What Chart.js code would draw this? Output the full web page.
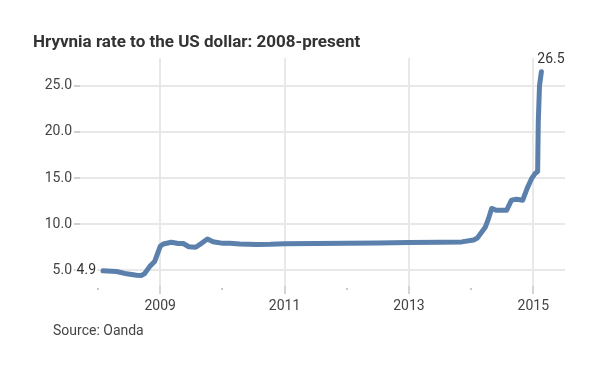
<!DOCTYPE html>
<html lang="en">
<head>
    <meta charset="UTF-8">
    <title>Hryvnia rate to the US dollar</title>
    <script src="https://cdn.jsdelivr.net/npm/chart.js"></script>
    <style>
        body { margin: 0; background: #fff; }
        .chart { width: 591px; height: 371px; }
    </style>
</head>
<body>
    <div class="chart">
        <canvas id="myChart" width="591" height="371"></canvas>
    </div>

    <script>
        // decimal years and UAH per USD
        var years = [2008.08, 2008.30, 2008.46, 2008.62, 2008.70, 2008.75, 2008.83, 2008.91, 2009.00, 2009.05,
            2009.18, 2009.29, 2009.37, 2009.46, 2009.57, 2009.67, 2009.76, 2009.85, 2010.01, 2010.12,
            2010.28, 2010.55, 2010.77, 2011.00, 2011.50, 2012.00, 2012.50, 2013.00, 2013.50, 2013.85,
            2014.04, 2014.10, 2014.23, 2014.28, 2014.33, 2014.41, 2014.57, 2014.65, 2014.73, 2014.83,
            2014.90, 2014.97, 2015.03, 2015.07, 2015.08, 2015.10, 2015.13];
        var rates = [4.95, 4.87, 4.62, 4.47, 4.45, 4.65, 5.40, 5.95, 7.60, 7.85,
            8.04, 7.90, 7.90, 7.55, 7.50, 7.95, 8.40, 8.10, 7.92, 7.94,
            7.86, 7.80, 7.82, 7.88, 7.90, 7.93, 7.95, 8.00, 8.03, 8.08,
            8.29, 8.50, 9.70, 10.60, 11.70, 11.50, 11.50, 12.60, 12.70, 12.60,
            13.85, 14.90, 15.50, 15.70, 21.00, 25.00, 26.50];

        var xTicks = [2008, 2009, 2010, 2011, 2012, 2013, 2014, 2015];
        var yTicks = [5, 10, 15, 20, 25];

        var titleText = 'Hryvnia rate to the US dollar: 2008-present';
        var sourceText = 'Source: Oanda';
        var firstLabel = '4.9';
        var lastLabel = '26.5';

        var font = 'Roboto, "Noto Sans", sans-serif';

        function isLabelled(v) {
            return v % 2 === 1;
        }

        // title, source and the first / last value labels
        var textPlugin = {
            id: 'texts',
            afterDraw: function (chart) {
                var ctx = chart.ctx;
                var xs = chart.scales.x, ys = chart.scales.y;
                ctx.save();
                ctx.textBaseline = 'middle';

                ctx.fillStyle = '#333';
                ctx.font = 'bold 17px ' + font;
                ctx.textAlign = 'left';
                ctx.fillText(titleText, 33, 43);

                ctx.fillStyle = '#444';
                ctx.font = '14px ' + font;
                ctx.fillText(sourceText, 53, 331);

                var n = years.length - 1;
                var fx = xs.getPixelForValue(years[0]) - 7;
                var fy = ys.getPixelForValue(rates[0]);
                var w = ctx.measureText(firstLabel).width;
                ctx.fillStyle = '#fff';
                ctx.fillRect(fx - w - 1, fy - 7, w + 2, 14);
                ctx.fillStyle = '#333';
                ctx.textAlign = 'right';
                ctx.fillText(firstLabel, fx, fy);
                ctx.textAlign = 'left';
                ctx.fillText(lastLabel, xs.getPixelForValue(years[n]) - 4, ys.getPixelForValue(rates[n]) - 12);
                ctx.restore();
            }
        };

        const data = {
            datasets: [{
                data: years.map(function (y, i) { return { x: y, y: rates[i] }; }),
                borderColor: '#5a80ab',
                borderWidth: 5,
                borderCapStyle: 'round',
                borderJoinStyle: 'round',
                pointRadius: 0,
                tension: 0,
                fill: false
            }]
        };

        const config = {
            type: 'line',
            data,
            plugins: [textPlugin],
            options: {
                responsive: false,
                animation: false,
                layout: { padding: { left: 33, top: 58, right: 26, bottom: 0 } },
                plugins: {
                    legend: { display: false },
                    tooltip: { enabled: false }
                },
                scales: {
                    x: {
                        type: 'linear',
                        min: 2007.71,
                        max: 2015.51,
                        afterBuildTicks: function (scale) {
                            scale.ticks = xTicks.map(function (v) { return { value: v }; });
                        },
                        afterFit: function (scale) { scale.height = 85; },
                        border: { display: false },
                        grid: {
                            color: function (c) { return isLabelled(c.tick.value) ? '#e8e8e8' : 'rgba(0,0,0,0)'; },
                            tickColor: function (c) { return isLabelled(c.tick.value) ? '#d4d4d4' : '#c8c8c8'; },
                            tickBorderDash: function (c) { return isLabelled(c.tick.value) ? [] : [0, 2, 2, 20]; },
                            lineWidth: 2,
                            tickLength: 8
                        },
                        ticks: {
                            autoSkip: false,
                            maxRotation: 0,
                            padding: 4,
                            color: '#444',
                            font: { family: font, size: 14 },
                            callback: function (v) { return isLabelled(v) ? String(v) : ''; }
                        }
                    },
                    y: {
                        min: 3.3,
                        max: 28,
                        afterBuildTicks: function (scale) {
                            scale.ticks = yTicks.map(function (v) { return { value: v }; });
                        },
                        afterFit: function (scale) { scale.width = 47; },
                        border: { display: false },
                        grid: {
                            color: '#e8e8e8',
                            tickColor: '#cfcfcf',
                            lineWidth: 2,
                            tickLength: 6
                        },
                        ticks: {
                            padding: 2,
                            color: '#444',
                            font: { family: font, size: 14 },
                            callback: function (v) { return v.toFixed(1); }
                        }
                    }
                }
            }
        };

        var myChart = new Chart(document.getElementById('myChart'), config);
    </script>
</body>
</html>
